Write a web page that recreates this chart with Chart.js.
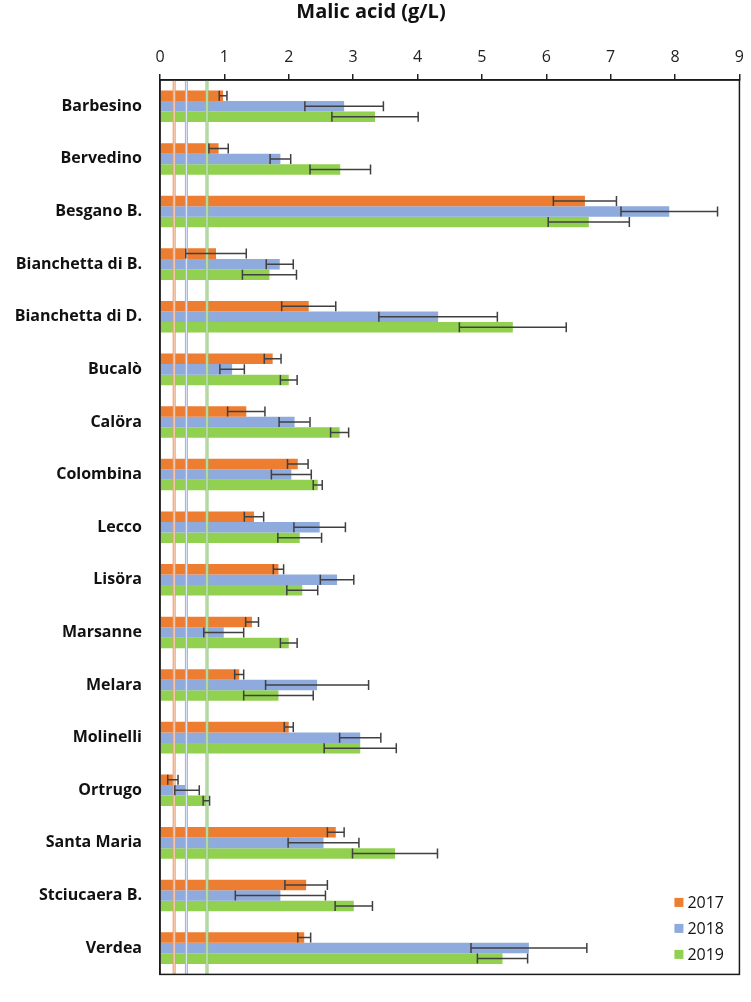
<!DOCTYPE html>
<html>
<head>
<meta charset="utf-8">
<title>Malic acid</title>
<script src="https://cdn.jsdelivr.net/npm/chart.js@4.4.0/dist/chart.umd.min.js"></script>
<style>
  html, body { margin: 0; padding: 0; background: #fff; }
  #wrap { width: 751px; height: 1002px; position: relative; }
</style>
</head>
<body>
<div id="wrap"><canvas id="malicChart"></canvas></div>
<script>
// Cultivars (top to bottom)
const cultivars = ['Barbesino', 'Bervedino', 'Besgano B.', 'Bianchetta di B.', 'Bianchetta di D.',
    'Bucalò', 'Calöra', 'Colombina', 'Lecco', 'Lisöra', 'Marsanne', 'Melara', 'Molinelli',
    'Ortrugo', 'Santa Maria', 'Stciucaera B.', 'Verdea'];
const years = ['2017', '2018', '2019'];

// Malic acid means (g/L)
const mean2017 = [0.98, 0.91, 6.60, 0.87, 2.31, 1.75, 1.34, 2.14, 1.46, 1.84, 1.43, 1.23, 2.00, 0.20, 2.73, 2.27, 2.24];
const mean2018 = [2.86, 1.87, 7.91, 1.86, 4.32, 1.12, 2.09, 2.04, 2.48, 2.75, 0.99, 2.44, 3.11, 0.42, 2.54, 1.87, 5.73];
const mean2019 = [3.34, 2.80, 6.66, 1.70, 5.48, 2.00, 2.79, 2.45, 2.17, 2.21, 2.00, 1.84, 3.11, 0.72, 3.65, 3.01, 5.32];

// standard deviations
const sd2017 = [0.06, 0.15, 0.49, 0.47, 0.42, 0.13, 0.29, 0.16, 0.15, 0.08, 0.10, 0.07, 0.07, 0.08, 0.13, 0.33, 0.10];
const sd2018 = [0.61, 0.16, 0.75, 0.21, 0.92, 0.19, 0.24, 0.31, 0.40, 0.26, 0.31, 0.80, 0.32, 0.19, 0.55, 0.70, 0.90];
const sd2019 = [0.67, 0.47, 0.63, 0.42, 0.83, 0.13, 0.14, 0.07, 0.34, 0.24, 0.13, 0.54, 0.56, 0.05, 0.66, 0.29, 0.39];

// LSD reference lines per year
const lsd = [0.22, 0.41, 0.73];

const xTicks = [0, 1, 2, 3, 4, 5, 6, 7, 8, 9];

const barColors = ['#ED7D31', '#8FAADC', '#92D050'];
const lineEdge = ['#E9996A', '#9CB3DD', '#8DC474'];
const lineCore = ['#FBE1D0', '#E3EAF6', '#DDEFD2'];
const FONT = '"Open Sans", Lato, sans-serif';

// draws error bars, lsd lines, plot frame and legend
const extras = {
    id: 'extras',
    afterDatasetsDraw(chart) {
        const ctx = chart.ctx;
        const xs = chart.scales.x;
        const area = chart.chartArea;
        const sds = [sd2017, sd2018, sd2019];

        // lsd vertical lines (over the bars)
        lsd.forEach((v, i) => {
            const px = xs.getPixelForValue(v);
            ctx.save();
            ctx.strokeStyle = lineEdge[i];
            ctx.lineWidth = 3;
            ctx.beginPath();
            ctx.moveTo(px, area.top);
            ctx.lineTo(px, area.bottom);
            ctx.stroke();
            ctx.strokeStyle = lineCore[i];
            ctx.lineWidth = 1;
            ctx.beginPath();
            ctx.moveTo(px, area.top);
            ctx.lineTo(px, area.bottom);
            ctx.stroke();
            ctx.restore();
        });

        // error bars
        ctx.save();
        ctx.strokeStyle = '#404040';
        ctx.lineWidth = 1.5;
        chart.data.datasets.forEach((ds, di) => {
            const meta = chart.getDatasetMeta(di);
            meta.data.forEach((bar, j) => {
                const v = ds.data[j];
                const e = sds[di][j];
                const lo = xs.getPixelForValue(v - e);
                const hi = xs.getPixelForValue(v + e);
                const y = bar.y;
                const cap = 5;
                ctx.beginPath();
                ctx.moveTo(lo, y);
                ctx.lineTo(hi, y);
                ctx.moveTo(lo, y - cap);
                ctx.lineTo(lo, y + cap);
                ctx.moveTo(hi, y - cap);
                ctx.lineTo(hi, y + cap);
                ctx.stroke();
            });
        });
        ctx.restore();
    },
    afterDraw(chart) {
        const ctx = chart.ctx;
        const area = chart.chartArea;
        ctx.save();
        ctx.strokeStyle = '#1a1a1a';
        ctx.lineWidth = 1.5;
        ctx.strokeRect(area.left, area.top, area.right - area.left, area.bottom - area.top);

        // legend, bottom right inside the plot
        ctx.font = '16px ' + FONT;
        ctx.textBaseline = 'middle';
        chart.data.datasets.forEach((ds, i) => {
            const y = area.bottom - 72 + i * 26;
            const x = area.right - 65;
            ctx.fillStyle = ds.backgroundColor;
            ctx.fillRect(x, y - 4.5, 9, 9);
            ctx.fillStyle = '#111';
            ctx.fillText(ds.label, x + 13, y + 1);
        });
        ctx.restore();
    }
};

const ctx = document.getElementById('malicChart').getContext('2d');
const malicChart = new Chart(ctx, {
    type: 'bar',
    data: {
        labels: cultivars,
        datasets: [
            { label: years[0], data: mean2017, backgroundColor: barColors[0] },
            { label: years[1], data: mean2018, backgroundColor: barColors[1] },
            { label: years[2], data: mean2019, backgroundColor: barColors[2] }
        ]
    },
    options: {
        indexAxis: 'y',
        responsive: true,
        maintainAspectRatio: false,
        animation: false,
        datasets: {
            bar: { categoryPercentage: 0.6, barPercentage: 1.0, borderWidth: 0 }
        },
        layout: { padding: { left: 0, right: 9, top: 0, bottom: 13 } },
        plugins: {
            legend: { display: false },
            tooltip: { enabled: false },
            title: {
                display: true,
                text: 'Malic acid (g/L)',
                color: '#111',
                font: { family: FONT, size: 20, weight: 'bold' },
                padding: { top: 0, bottom: 4 }
            }
        },
        scales: {
            x: {
                type: 'linear',
                position: 'top',
                min: xTicks[0],
                max: xTicks[xTicks.length - 1],
                afterBuildTicks(scale) {
                    scale.ticks = xTicks.map(v => ({ value: v }));
                },
                ticks: { color: '#222', font: { family: FONT, size: 16 }, padding: 7 },
                grid: { drawOnChartArea: false, drawTicks: true, tickLength: 6, color: '#222', lineWidth: 1.5 },
                border: { display: true, color: '#222', width: 1.5 },
                afterFit(scale) { scale.height = 52; }
            },
            y: {
                ticks: { color: '#111', font: { family: FONT, size: 16, weight: 'bold' }, padding: 18 },
                grid: { display: false, drawTicks: false },
                border: { display: true, color: '#222', width: 1.5 },
                afterFit(scale) { scale.width = 160; }
            }
        }
    },
    plugins: [extras]
});
</script>
</body>
</html>
